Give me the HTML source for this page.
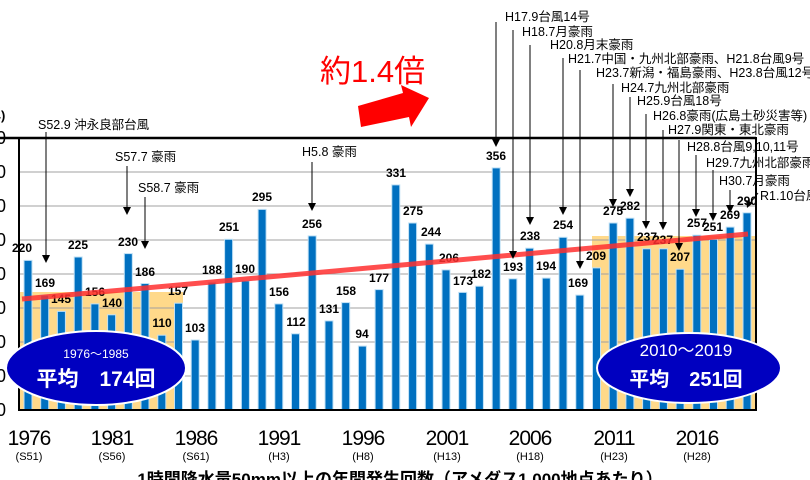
<!DOCTYPE html>
<html><head><meta charset="utf-8"><style>
html,body{margin:0;padding:0;background:#fff;}
svg{display:block;font-family:"Liberation Sans","Noto Sans CJK JP",sans-serif;}
</style></head><body>
<svg width="810" height="480" viewBox="0 0 810 480" xmlns="http://www.w3.org/2000/svg">
<rect x="20" y="292" width="163" height="118" fill="#ffd98a"/>
<rect x="592" y="236" width="165" height="174" fill="#ffd98a"/>
<g stroke="#a0a0a0" stroke-width="1">
<line x1="19" x2="755" y1="172" y2="172"/><line x1="19" x2="755" y1="206" y2="206"/>
<line x1="19" x2="755" y1="240" y2="240"/><line x1="19" x2="755" y1="274" y2="274"/>
<line x1="19" x2="755" y1="308" y2="308"/><line x1="19" x2="755" y1="342" y2="342"/>
<line x1="19" x2="755" y1="376" y2="376"/>
</g>
<g fill="#0070c0" stroke="#bfe0f5" stroke-width="1">
<rect x="24.0" y="260.4" width="8" height="149.6"/>
<rect x="40.7" y="295.1" width="8" height="114.9"/>
<rect x="57.4" y="311.4" width="8" height="98.6"/>
<rect x="74.2" y="257.0" width="8" height="153.0"/>
<rect x="90.9" y="303.9" width="8" height="106.1"/>
<rect x="107.6" y="314.8" width="8" height="95.2"/>
<rect x="124.3" y="253.6" width="8" height="156.4"/>
<rect x="141.0" y="283.5" width="8" height="126.5"/>
<rect x="157.8" y="335.2" width="8" height="74.8"/>
<rect x="174.5" y="303.2" width="8" height="106.8"/>
<rect x="191.2" y="340.0" width="8" height="70.0"/>
<rect x="207.9" y="282.2" width="8" height="127.8"/>
<rect x="224.6" y="239.3" width="8" height="170.7"/>
<rect x="241.4" y="280.8" width="8" height="129.2"/>
<rect x="258.1" y="209.4" width="8" height="200.6"/>
<rect x="274.8" y="303.9" width="8" height="106.1"/>
<rect x="291.5" y="333.8" width="8" height="76.2"/>
<rect x="308.2" y="235.9" width="8" height="174.1"/>
<rect x="325.0" y="320.9" width="8" height="89.1"/>
<rect x="341.7" y="302.6" width="8" height="107.4"/>
<rect x="358.4" y="346.1" width="8" height="63.9"/>
<rect x="375.1" y="289.6" width="8" height="120.4"/>
<rect x="391.8" y="184.9" width="8" height="225.1"/>
<rect x="408.6" y="223.0" width="8" height="187.0"/>
<rect x="425.3" y="244.1" width="8" height="165.9"/>
<rect x="442.0" y="269.9" width="8" height="140.1"/>
<rect x="458.7" y="292.4" width="8" height="117.6"/>
<rect x="475.4" y="286.2" width="8" height="123.8"/>
<rect x="492.2" y="167.9" width="8" height="242.1"/>
<rect x="508.9" y="278.8" width="8" height="131.2"/>
<rect x="525.6" y="248.2" width="8" height="161.8"/>
<rect x="542.3" y="278.1" width="8" height="131.9"/>
<rect x="559.0" y="237.3" width="8" height="172.7"/>
<rect x="575.8" y="295.1" width="8" height="114.9"/>
<rect x="592.5" y="267.9" width="8" height="142.1"/>
<rect x="609.2" y="223.0" width="8" height="187.0"/>
<rect x="625.9" y="218.2" width="8" height="191.8"/>
<rect x="642.6" y="248.8" width="8" height="161.2"/>
<rect x="659.4" y="248.8" width="8" height="161.2"/>
<rect x="676.1" y="269.2" width="8" height="140.8"/>
<rect x="692.8" y="235.2" width="8" height="174.8"/>
<rect x="709.5" y="239.3" width="8" height="170.7"/>
<rect x="726.2" y="227.1" width="8" height="182.9"/>
<rect x="743.0" y="212.8" width="8" height="197.2"/>
</g>
<g font-size="12" font-weight="bold" text-anchor="middle" fill="#000">
<text x="22" y="252">220</text>
<text x="45" y="287">169</text>
<text x="61" y="303">145</text>
<text x="78" y="249">225</text>
<text x="95" y="296">156</text>
<text x="112" y="307">140</text>
<text x="128" y="246">230</text>
<text x="145" y="276">186</text>
<text x="162" y="327">110</text>
<text x="178" y="295">157</text>
<text x="195" y="332">103</text>
<text x="212" y="274">188</text>
<text x="229" y="231">251</text>
<text x="245" y="273">190</text>
<text x="262" y="201">295</text>
<text x="279" y="296">156</text>
<text x="296" y="326">112</text>
<text x="312" y="228">256</text>
<text x="329" y="313">131</text>
<text x="346" y="295">158</text>
<text x="362" y="338">94</text>
<text x="379" y="282">177</text>
<text x="396" y="177">331</text>
<text x="413" y="215">275</text>
<text x="431" y="236">244</text>
<text x="449" y="262">206</text>
<text x="463" y="285">173</text>
<text x="481" y="278">182</text>
<text x="496" y="160">356</text>
<text x="513" y="271">193</text>
<text x="530" y="240">238</text>
<text x="546" y="270">194</text>
<text x="563" y="229">254</text>
<text x="578" y="287">169</text>
<text x="596" y="260">209</text>
<text x="613" y="215">275</text>
<text x="630" y="210">282</text>
<text x="647" y="241">237</text>
<text x="663" y="244">237</text>
<text x="680" y="261">207</text>
<text x="697" y="227">257</text>
<text x="713" y="231">251</text>
<text x="730" y="219">269</text>
<text x="747" y="205">290</text>
</g>
<line x1="0" y1="138" x2="756" y2="138" stroke="#000" stroke-width="2.5"/>
<rect x="19" y="138" width="737" height="272" fill="none" stroke="#000" stroke-width="2"/>
<line x1="22" y1="299" x2="748" y2="234" stroke="#ff3030" stroke-width="5" opacity="0.85"/>
<g font-size="18" text-anchor="end">
<text x="6" y="144">400</text><text x="6" y="178">350</text><text x="6" y="212">300</text>
<text x="6" y="246">250</text><text x="6" y="280">200</text><text x="6" y="314">150</text>
<text x="6" y="348">100</text><text x="6" y="382">50</text><text x="6" y="416">0</text>
</g>
<text x="-33" y="120" font-size="13" font-weight="bold">(回/年)</text>
<g font-size="21" text-anchor="middle" letter-spacing="-1">
<text x="29" y="445">1976</text><text x="112" y="445">1981</text><text x="196" y="445">1986</text>
<text x="279" y="445">1991</text><text x="363" y="445">1996</text><text x="447" y="445">2001</text>
<text x="530" y="445">2006</text><text x="614" y="445">2011</text><text x="697" y="445">2016</text>
</g>
<g font-size="11" text-anchor="middle">
<text x="29" y="460">(S51)</text><text x="112" y="460">(S56)</text><text x="196" y="460">(S61)</text>
<text x="279" y="460">(H3)</text><text x="363" y="460">(H8)</text><text x="447" y="460">(H13)</text>
<text x="530" y="460">(H18)</text><text x="614" y="460">(H23)</text><text x="697" y="460">(H28)</text>
</g>
<text x="400" y="485" font-size="17" font-weight="bold" text-anchor="middle">1時間降水量50mm以上の年間発生回数（アメダス1,000地点あたり）</text>
<ellipse cx="96" cy="368" rx="90" ry="37" fill="#0000c0" stroke="#fff" stroke-width="2"/>
<text x="96" y="358" font-size="12" fill="#fff" text-anchor="middle">1976～1985</text>
<text x="96" y="386" font-size="21" font-weight="bold" fill="#fff" text-anchor="middle">平均　174回</text>
<ellipse cx="689" cy="368" rx="92" ry="35" fill="#0000c0" stroke="#fff" stroke-width="2"/>
<text x="686" y="356" font-size="17" fill="#fff" text-anchor="middle">2010～2019</text>
<text x="686" y="386" font-size="20" font-weight="bold" fill="#fff" text-anchor="middle">平均　251回</text>
<text x="320" y="82" font-size="31" fill="#ff0000">約1.4倍</text>
<polygon points="358,106 403,93 401,85 429,98 411,127 409,117 361,127" fill="#ff0000"/>
<g font-size="12.5" fill="#000">
<text x="38" y="129">S52.9 沖永良部台風</text>
<text x="115" y="161">S57.7 豪雨</text>
<text x="138" y="192">S58.7 豪雨</text>
<text x="302" y="156">H5.8 豪雨</text>
<text x="505" y="21">H17.9台風14号</text>
<text x="522" y="36">H18.7月豪雨</text>
<text x="550" y="49">H20.8月末豪雨</text>
<text x="568" y="63">H21.7中国・九州北部豪雨、H21.8台風9号</text>
<text x="596" y="77">H23.7新潟・福島豪雨、H23.8台風12号</text>
<text x="621" y="92">H24.7九州北部豪雨</text>
<text x="637" y="105">H25.9台風18号</text>
<text x="653" y="120">H26.8豪雨(広島土砂災害等)</text>
<text x="668" y="134">H27.9関東・東北豪雨</text>
<text x="687" y="151">H28.8台風9,10,11号</text>
<text x="706" y="167">H29.7九州北部豪雨</text>
<text x="719" y="185">H30.7月豪雨</text>
<text x="760" y="200">R1.10台風</text>
</g>
<g stroke="#000" stroke-width="1">
<line x1="46" y1="132" x2="46" y2="255"/>
<line x1="127" y1="166" x2="127" y2="207"/>
<line x1="145" y1="197" x2="145" y2="241"/>
<line x1="312" y1="162" x2="312" y2="203"/>
<line x1="496" y1="22" x2="496" y2="139"/>
<line x1="513" y1="30" x2="513" y2="251"/>
<line x1="530" y1="45" x2="530" y2="217"/>
<line x1="563" y1="58" x2="563" y2="207"/>
<line x1="580" y1="70" x2="580" y2="261"/>
<line x1="613" y1="84" x2="613" y2="199"/>
<line x1="630" y1="97" x2="630" y2="189"/>
<line x1="646" y1="114" x2="646" y2="221"/>
<line x1="663" y1="130" x2="663" y2="222"/>
<line x1="679" y1="140" x2="679" y2="243"/>
<line x1="696" y1="155" x2="696" y2="209"/>
<line x1="713" y1="170" x2="713" y2="213"/>
<line x1="730" y1="190" x2="730" y2="205"/>
<line x1="758" y1="193" x2="751" y2="202"/>
</g>
<g fill="#000">
<polygon points="42,255 50,255 46,263"/>
<polygon points="123,207 131,207 127,215"/>
<polygon points="141,241 149,241 145,249"/>
<polygon points="308,203 316,203 312,211"/>
<polygon points="492,139 500,139 496,147"/>
<polygon points="509,251 517,251 513,259"/>
<polygon points="526,217 534,217 530,225"/>
<polygon points="559,207 567,207 563,215"/>
<polygon points="576,261 584,261 580,269"/>
<polygon points="609,199 617,199 613,207"/>
<polygon points="626,189 634,189 630,197"/>
<polygon points="642,221 650,221 646,229"/>
<polygon points="659,222 667,222 663,230"/>
<polygon points="675,243 683,243 679,251"/>
<polygon points="692,209 700,209 696,217"/>
<polygon points="709,213 717,213 713,221"/>
<polygon points="726,205 734,205 730,213"/>
<polygon points="746,200 753,203 747,208"/>
</g>
</svg>
</body></html>
